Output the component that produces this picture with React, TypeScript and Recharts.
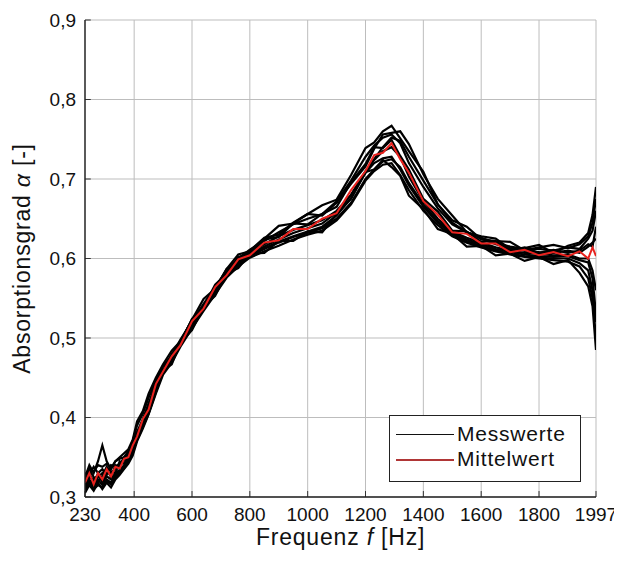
import React from "react";
import {
  LineChart,
  Line,
  XAxis,
  YAxis,
  CartesianGrid,
  ReferenceLine,
  Label,
} from "recharts";

// Frequency grid [Hz]
const freqs = [
  230, 245, 260, 275, 290, 305, 320, 335, 350, 365,
  380, 395, 410, 430, 450, 475, 500, 530, 560, 600,
  640, 680, 720, 760, 800, 850, 900, 950, 1000, 1050,
  1100, 1150, 1200, 1230, 1260, 1290, 1320, 1350, 1400, 1450,
  1500, 1550, 1600, 1650, 1700, 1750, 1800, 1850, 1900, 1940,
  1970, 1985, 1997,
];

// Mean value (Mittelwert)
const mittelwert = [
  0.318, 0.33, 0.316, 0.33, 0.322, 0.335, 0.326, 0.338, 0.336, 0.348,
  0.35, 0.365, 0.376, 0.398, 0.41, 0.442, 0.458, 0.477, 0.491, 0.521,
  0.537, 0.564, 0.579, 0.599, 0.604, 0.62, 0.623, 0.637, 0.637, 0.65,
  0.657, 0.686, 0.71, 0.73, 0.733, 0.745, 0.725, 0.708, 0.672, 0.655,
  0.633, 0.631, 0.619, 0.619, 0.608, 0.611, 0.604, 0.608, 0.603, 0.609,
  0.6, 0.614, 0.603,
];

// Individual measurements (Messwerte)
const messA = [
  0.308, 0.318, 0.31, 0.315, 0.312, 0.32, 0.316, 0.325, 0.33, 0.336,
  0.345, 0.356, 0.372, 0.388, 0.405, 0.432, 0.459, 0.467, 0.494, 0.51,
  0.539, 0.553, 0.581, 0.588, 0.606, 0.607, 0.622, 0.622, 0.634, 0.633,
  0.656, 0.675, 0.709, 0.712, 0.724, 0.715, 0.704, 0.679, 0.662, 0.637,
  0.631, 0.615, 0.616, 0.604, 0.606, 0.597, 0.602, 0.593, 0.598, 0.582,
  0.565, 0.54, 0.485,
];
const messB = [
  0.312, 0.322, 0.315, 0.33, 0.318, 0.326, 0.322, 0.33, 0.334, 0.34,
  0.348, 0.358, 0.375, 0.39, 0.408, 0.435, 0.457, 0.472, 0.492, 0.515,
  0.537, 0.558, 0.58, 0.593, 0.604, 0.613, 0.621, 0.628, 0.634, 0.64,
  0.654, 0.676, 0.708, 0.72, 0.726, 0.728, 0.712, 0.692, 0.665, 0.645,
  0.63, 0.622, 0.616, 0.61, 0.606, 0.603, 0.601, 0.6, 0.6, 0.594,
  0.585, 0.56, 0.52,
];
const messC = [
  0.322, 0.33, 0.318, 0.325, 0.33, 0.335, 0.325, 0.34, 0.338, 0.35,
  0.355, 0.365, 0.382, 0.398, 0.418, 0.442, 0.459, 0.48, 0.494, 0.524,
  0.539, 0.567, 0.581, 0.602, 0.606, 0.624, 0.627, 0.644, 0.643, 0.656,
  0.665, 0.696, 0.719, 0.74, 0.739, 0.749, 0.729, 0.712, 0.675, 0.659,
  0.635, 0.634, 0.621, 0.622, 0.61, 0.614, 0.607, 0.611, 0.607, 0.61,
  0.618, 0.615, 0.64,
];
const messD = [
  0.315, 0.335, 0.325, 0.32, 0.326, 0.338, 0.332, 0.33, 0.345, 0.342,
  0.35, 0.36, 0.376, 0.395, 0.41, 0.436, 0.459, 0.473, 0.493, 0.517,
  0.539, 0.56, 0.581, 0.595, 0.606, 0.615, 0.624, 0.632, 0.638, 0.644,
  0.658, 0.68, 0.71, 0.724, 0.735, 0.74, 0.728, 0.703, 0.672, 0.65,
  0.634, 0.626, 0.62, 0.614, 0.61, 0.607, 0.606, 0.604, 0.605, 0.6,
  0.6, 0.585, 0.56,
];
const messE = [
  0.325, 0.34, 0.33, 0.345, 0.365, 0.345, 0.335, 0.345, 0.348, 0.35,
  0.358, 0.37, 0.39, 0.405, 0.425, 0.446, 0.465, 0.478, 0.498, 0.521,
  0.543, 0.564, 0.585, 0.6, 0.611, 0.622, 0.633, 0.643, 0.65, 0.656,
  0.672, 0.698, 0.728, 0.742, 0.752, 0.756, 0.745, 0.72, 0.69, 0.663,
  0.643, 0.633, 0.626, 0.62, 0.615, 0.612, 0.612, 0.61, 0.614, 0.612,
  0.625, 0.635, 0.66,
];
const messF = [
  0.32, 0.328, 0.338, 0.33, 0.335, 0.328, 0.34, 0.338, 0.342, 0.348,
  0.356, 0.364, 0.38, 0.396, 0.414, 0.44, 0.465, 0.471, 0.495, 0.523,
  0.537, 0.562, 0.587, 0.594, 0.61, 0.626, 0.63, 0.645, 0.656, 0.654,
  0.67, 0.694, 0.716, 0.738, 0.756, 0.758, 0.76, 0.744, 0.706, 0.675,
  0.654, 0.633, 0.628, 0.625, 0.612, 0.613, 0.617, 0.607, 0.616, 0.62,
  0.632, 0.655, 0.69,
];
const messG = [
  0.31, 0.32, 0.312, 0.322, 0.315, 0.322, 0.318, 0.328, 0.332, 0.338,
  0.345, 0.355, 0.373, 0.39, 0.406, 0.433, 0.456, 0.471, 0.491, 0.514,
  0.536, 0.557, 0.578, 0.592, 0.603, 0.612, 0.62, 0.627, 0.632, 0.638,
  0.65, 0.67, 0.7, 0.712, 0.722, 0.725, 0.715, 0.695, 0.668, 0.647,
  0.632, 0.624, 0.618, 0.612, 0.608, 0.605, 0.603, 0.602, 0.603, 0.598,
  0.595, 0.575, 0.53,
];
const messH = [
  0.328, 0.335, 0.332, 0.34, 0.338, 0.342, 0.336, 0.345, 0.35, 0.355,
  0.36, 0.372, 0.395, 0.408, 0.43, 0.45, 0.467, 0.484, 0.496, 0.523,
  0.549, 0.562, 0.587, 0.605, 0.609, 0.625, 0.641, 0.644, 0.656, 0.667,
  0.674, 0.705, 0.739, 0.746, 0.76, 0.767, 0.751, 0.735, 0.709, 0.668,
  0.648, 0.64, 0.624, 0.622, 0.621, 0.61, 0.614, 0.617, 0.613, 0.618,
  0.628, 0.645, 0.675,
];
const messI = [
  0.316, 0.325, 0.322, 0.328, 0.32, 0.33, 0.33, 0.335, 0.338, 0.346,
  0.352, 0.362, 0.378, 0.393, 0.411, 0.437, 0.459, 0.474, 0.494, 0.518,
  0.54, 0.561, 0.582, 0.597, 0.608, 0.618, 0.628, 0.636, 0.642, 0.648,
  0.66, 0.68, 0.708, 0.725, 0.74, 0.752, 0.748, 0.728, 0.698, 0.668,
  0.645, 0.633, 0.625, 0.618, 0.613, 0.61, 0.608, 0.607, 0.61, 0.607,
  0.615, 0.62, 0.625,
];
const messJ = [
  0.305, 0.315, 0.308, 0.318, 0.31, 0.318, 0.312, 0.322, 0.328, 0.335,
  0.342, 0.352, 0.37, 0.386, 0.404, 0.43, 0.454, 0.469, 0.489, 0.512,
  0.534, 0.555, 0.576, 0.59, 0.601, 0.609, 0.616, 0.624, 0.63, 0.635,
  0.648, 0.668, 0.698, 0.71, 0.718, 0.72, 0.705, 0.686, 0.66, 0.642,
  0.628, 0.62, 0.614, 0.609, 0.605, 0.602, 0.6, 0.598, 0.596, 0.59,
  0.575, 0.55, 0.5,
];

const messwerte = [messA, messB, messC, messD, messE, messF, messG, messH, messI, messJ];

const xTicks = [230, 400, 600, 800, 1000, 1200, 1400, 1600, 1800, 1997];
const yTicks = [0.3, 0.4, 0.5, 0.6, 0.7, 0.8, 0.9];

const data = freqs.map((f, i) => {
  const row: Record<string, number> = { f, mean: mittelwert[i] };
  messwerte.forEach((s, k) => {
    row["m" + k] = s[i];
  });
  return row;
});

const FONT = "'Liberation Sans', Arial, sans-serif";

const XLabel = (props: any) => {
  const vb = props.viewBox || { x: 77, y: 489, width: 511, height: 68 };
  const cx = vb.x + vb.width / 2;
  return (
    <text x={cx} y={vb.y + 48} textAnchor="middle" fontFamily={FONT} fontSize={23} fill="#111" letterSpacing={0.8}>
      <tspan>Frequenz </tspan>
      <tspan fontStyle="italic">f</tspan>
      <tspan> [Hz]</tspan>
    </text>
  );
};

const YLabel = (props: any) => {
  const vb = props.viewBox || { x: 0, y: 12, width: 77, height: 477 };
  const cx = 22;
  const cy = vb.y + vb.height / 2;
  return (
    <text
      x={cx}
      y={cy}
      transform={`rotate(-90 ${cx} ${cy})`}
      textAnchor="middle"
      fontFamily={FONT}
      fontSize={23}
      fill="#111"
      letterSpacing={0.8}
    >
      <tspan>Absorptionsgrad </tspan>
      <tspan fontStyle="italic">α</tspan>
      <tspan> [-]</tspan>
    </text>
  );
};

const fmtY = (v: number) => v.toFixed(1).replace(".", ",");

export default function App() {
  return (
    <div style={{ position: "relative", width: 614, height: 557 }}>
      <LineChart
        width={614}
        height={557}
        data={data}
        margin={{ top: 12, right: 26, bottom: 0, left: 0 }}
      >
        <CartesianGrid stroke="#bdbdbd" strokeWidth={1} horizontalValues={yTicks} verticalValues={xTicks} />
        <XAxis
          dataKey="f"
          type="number"
          domain={[230, 1997]}
          ticks={xTicks}
          interval={0}
          allowDataOverflow
          height={68}
          tickLine={false}
          tickSize={0}
          tickMargin={11}
          axisLine={{ stroke: "#222", strokeWidth: 1.4 }}
          tick={{ fontFamily: FONT, fontSize: 19, fill: "#111" }}
        >
          <Label content={XLabel} />
        </XAxis>
        <YAxis
          type="number"
          domain={[0.3, 0.9]}
          ticks={yTicks}
          interval={0}
          allowDataOverflow
          width={77}
          tickLine={false}
          tickSize={0}
          tickMargin={9}
          tickFormatter={fmtY}
          axisLine={{ stroke: "#222", strokeWidth: 1.4 }}
          tick={{ fontFamily: FONT, fontSize: 19, fill: "#111" }}
        >
          <Label content={YLabel} />
        </YAxis>
        {yTicks.map((v) => (
          <ReferenceLine
            key={"yt" + v}
            segment={[
              { x: 230, y: v },
              { x: 250, y: v },
            ]}
            stroke="#333"
            strokeWidth={1}
          />
        ))}
        {xTicks.map((v) => (
          <ReferenceLine
            key={"xt" + v}
            segment={[
              { x: v, y: 0.3 },
              { x: v, y: 0.3075 },
            ]}
            stroke="#333"
            strokeWidth={1}
          />
        ))}
        {messwerte.map((_, k) => (
          <Line
            key={"m" + k}
            dataKey={"m" + k}
            stroke="#000"
            strokeWidth={2.2}
            dot={false}
            isAnimationActive={false}
          />
        ))}
        <Line dataKey="mean" stroke="#e8221e" strokeWidth={2} dot={false} isAnimationActive={false} />
      </LineChart>
      <div
        style={{
          position: "absolute",
          left: 381,
          top: 407,
          width: 190,
          height: 65,
          border: "1px solid #222",
          background: "#fff",
          fontFamily: FONT,
          fontSize: 21,
          letterSpacing: 0.8,
          color: "#111",
        }}
      >
        <div style={{ position: "absolute", left: 6, top: 18, width: 58, height: 1, background: "#111" }} />
        <div style={{ position: "absolute", left: 67, top: 5, lineHeight: "26px" }}>Messwerte</div>
        <div style={{ position: "absolute", left: 6, top: 43, width: 58, height: 1.5, background: "#b03636" }} />
        <div style={{ position: "absolute", left: 67, top: 30, lineHeight: "26px" }}>Mittelwert</div>
      </div>
    </div>
  );
}
